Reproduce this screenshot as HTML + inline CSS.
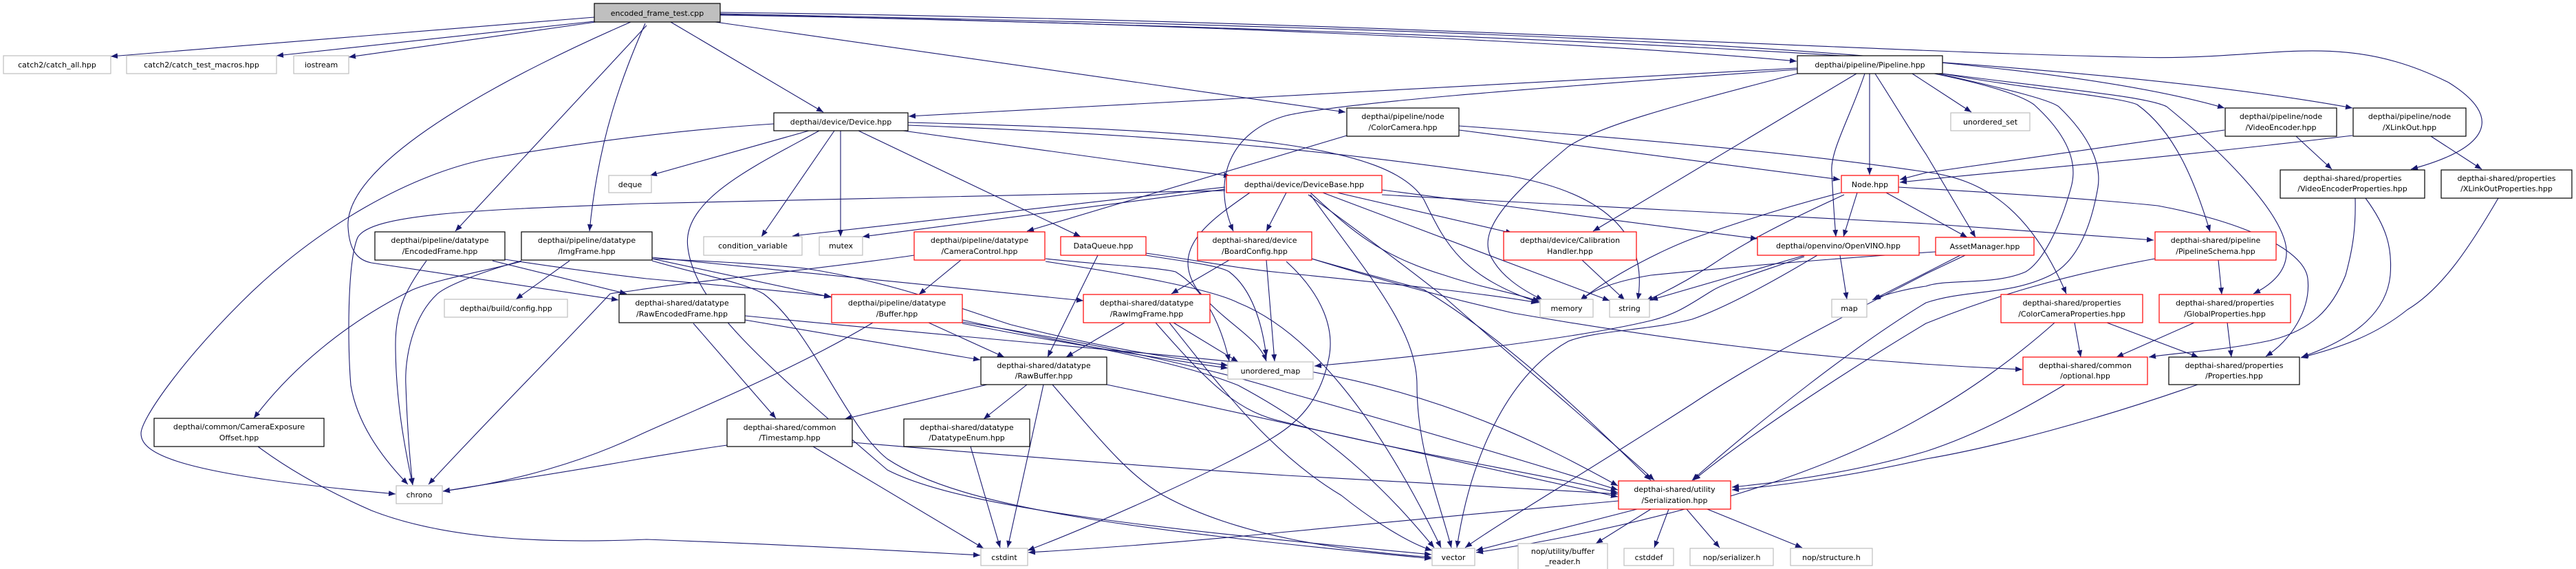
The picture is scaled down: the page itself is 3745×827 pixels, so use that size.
<!DOCTYPE html>
<html><head><meta charset="utf-8"><style>
html,body{margin:0;padding:0;background:#fff;}
svg{display:block;}
text{font-family:"DejaVu Sans","Liberation Sans",sans-serif;font-size:11px;fill:#000;text-anchor:middle;}
.e{fill:none;stroke:#191970;stroke-width:1.1;marker-end:url(#a);}
.g{fill:#fff;stroke:#bfbfbf;stroke-width:1.2;}
.b{fill:#fff;stroke:#000;stroke-width:1.2;}
.r{fill:#fff;stroke:#ff0000;stroke-width:1.2;}
</style></head><body>
<svg width="3745" height="827" viewBox="0 0 3745 827" xmlns="http://www.w3.org/2000/svg">
<defs><marker id="a" markerUnits="userSpaceOnUse" markerWidth="11" markerHeight="8" refX="10" refY="4" orient="auto"><path d="M0,0 L10,4 L0,8 Z" fill="#191970"/></marker></defs>
<g>
<!-- root edges -->
<path class="e" d="M864,25 L161,82"/>
<path class="e" d="M864,31 L402,81"/>
<path class="e" d="M866,32 L507,83"/>
<path class="e" d="M975,32 L1197,163"/>
<path class="e" d="M940,37 L662,336"/>
<path class="e" d="M938,34 C905,110 870,200 857,336"/>
<path class="e" d="M917,32 C760,100 500,230 506,330 C508,365 520,378 540,382 L899,436"/>
<path class="e" d="M1040,32 L1956,163"/>
<path class="e" d="M1047,22 C1600,30 2300,60 2612,89"/>
<path class="e" d="M1047,20 C2000,40 2900,60 3234,157"/>
<path class="e" d="M1047,21 C2100,45 3000,80 3420,157"/>
<path class="e" d="M1047,18 C2000,30 2700,75 3100,83 C3300,90 3400,40 3560,120 C3640,170 3620,215 3505,246"/>
<!-- Device -->
<path class="e" d="M1176,190 L945,255"/>
<path class="e" d="M1125,180 C1000,188 860,205 719,229 C600,250 460,330 350,440 C260,530 205,610 205,630 C205,660 260,690 575,718"/>
<path class="e" d="M1213,190 L1107,344"/>
<path class="e" d="M1222,190 L1222,344"/>
<path class="e" d="M1248,190 L1571,344"/>
<path class="e" d="M1313,190 L1789,256"/>
<path class="e" d="M1320,178 C1800,190 2020,210 2070,290 C2100,350 2120,400 2238,440"/>
<path class="e" d="M1320,182 C1800,200 2000,230 2196,256 C2300,275 2400,320 2381,436"/>
<path class="e" d="M1191,190 C1100,240 990,290 1000,360 C1010,440 1100,520 1290,683 C1400,740 1700,770 2081,806"/>
<!-- DeviceBase -->
<path class="e" d="M1781,272 L1152,343"/>
<path class="e" d="M1781,275 L1254,344"/>
<path class="e" d="M1781,277 C1400,285 1000,295 930,296 C700,305 540,310 520,345 C505,380 505,500 510,560 C520,620 560,670 593,704"/>
<path class="e" d="M1870,280 L1841,336"/>
<path class="e" d="M1944,280 L2199,339"/>
<path class="e" d="M1905,280 C1960,330 2000,370 2100,400 C2160,420 2200,425 2238,438"/>
<path class="e" d="M1923,280 L2340,437"/>
<path class="e" d="M1905,283 C1990,400 2060,480 2060,560 C2060,650 2090,720 2110,796"/>
<path class="e" d="M2009,276 L2555,347"/>
<path class="e" d="M1902,283 C1980,340 2060,400 2100,432 C2200,520 2330,630 2405,698"/>
<path class="e" d="M2009,283 C2300,300 2600,315 2800,325 C2950,335 3050,343 3131,349"/>
<path class="e" d="M1817,280 C1760,320 1700,360 1740,420 C1780,470 1830,490 1841,525"/>
<!-- Pipeline -->
<path class="e" d="M2613,99 L1321,169"/>
<path class="e" d="M2613,101 C2200,130 1950,150 1870,168 C1790,190 1760,260 1793,336"/>
<path class="e" d="M2613,107 C2450,150 2330,180 2280,213 C2200,280 2150,330 2166,370 C2180,400 2210,420 2243,436"/>
<path class="e" d="M2699,107 L2316,336"/>
<path class="e" d="M2711,107 C2690,170 2660,220 2663,251 C2665,290 2667,320 2669,344"/>
<path class="e" d="M2718,107 L2718,254"/>
<path class="e" d="M2726,107 C2760,160 2790,210 2800,224 L2872,345"/>
<path class="e" d="M2780,107 L2866,163"/>
<path class="e" d="M2812,107 C2900,125 2940,140 2957,152 C3010,200 3020,240 3011,272 C2995,330 2970,380 2945,395 C2900,415 2830,405 2800,416 C2770,420 2740,428 2724,435"/>
<path class="e" d="M2818,107 C2920,130 2980,145 2993,155 C3040,200 3055,240 3050,272 C3040,330 3020,380 2981,400 C2920,430 2860,420 2800,440 C2700,500 2560,610 2460,698"/>
<path class="e" d="M2824,107 C2950,130 3080,140 3107,152 C3160,190 3190,260 3213,337"/>
<path class="e" d="M2824,107 C3000,130 3120,140 3150,155 C3230,220 3320,310 3324,363 C3326,395 3300,415 3276,427"/>
<!-- ColorCamera -->
<path class="e" d="M1958,197 L1493,336"/>
<path class="e" d="M2121,189 L2675,261"/>
<path class="e" d="M2121,183 C2500,210 2700,235 2800,250 C2880,260 2950,300 3004,427"/>
<!-- Node -->
<path class="e" d="M3234,189 L2800,251 L2762,261"/>
<path class="e" d="M3420,197 C3100,235 2900,250 2800,261 L2762,265"/>
<path class="e" d="M2700,280 L2680,344"/>
<path class="e" d="M2677,280 C2560,310 2480,340 2460,347 C2400,370 2330,410 2297,437"/>
<path class="e" d="M2681,283 C2600,320 2540,350 2490,384 C2450,410 2420,425 2393,437"/>
<path class="e" d="M2742,280 L2860,345"/>
<path class="e" d="M2760,272 C2900,280 3050,290 3137,299 C3250,320 3350,360 3355,405 C3360,450 3330,495 3294,518"/>
<!-- VideoEncoder / XLinkOut -->
<path class="e" d="M3338,198 L3390,246"/>
<path class="e" d="M3534,198 L3608,246"/>
<path class="e" d="M3424,288 C3425,330 3421,360 3410,400 C3390,450 3360,480 3300,495 C3230,510 3170,512 3124,519"/>
<path class="e" d="M3439,288 C3470,330 3478,360 3475,400 C3470,450 3430,490 3346,519"/>
<path class="e" d="M3632,288 C3590,360 3550,420 3500,450 C3450,490 3400,505 3345,520"/>
<!-- PipelineSchema / properties -->
<path class="e" d="M3225,378 L3230,428"/>
<path class="e" d="M3133,376 C3000,400 2900,430 2800,470 C2650,560 2520,650 2462,698"/>
<path class="e" d="M3016,469 L3025,519"/>
<path class="e" d="M3063,469 L3196,519"/>
<path class="e" d="M2987,469 C2930,520 2860,570 2800,603 C2600,720 2300,780 2146,803"/>
<path class="e" d="M3190,469 L3077,519"/>
<path class="e" d="M3238,469 L3244,519"/>
<path class="e" d="M3002,559 C2950,590 2880,630 2800,656 C2700,685 2600,700 2518,708"/>
<path class="e" d="M3195,559 C3050,610 2900,650 2800,667 C2700,690 2600,705 2518,712"/>
<!-- OpenVINO / AssetManager / Calibration -->
<path class="e" d="M2675,371 L2685,435"/>
<path class="e" d="M2624,371 L2400,436"/>
<path class="e" d="M2642,371 C2560,420 2500,450 2460,464 C2400,480 2320,480 2280,496 C2200,540 2140,650 2118,796"/>
<path class="e" d="M2623,373 C2560,395 2510,410 2490,422 C2460,440 2440,456 2400,466 C2300,490 2100,515 1911,532"/>
<path class="e" d="M2814,366 C2600,380 2450,395 2400,400 C2340,410 2310,425 2298,437"/>
<path class="e" d="M2850,371 L2722,436"/>
<path class="e" d="M2857,371 L2800,398 C2700,450 2560,520 2460,587 C2300,690 2180,760 2130,796"/>
<path class="e" d="M2300,378 L2362,436"/>
<!-- DataQueue / CameraControl / BoardConfig -->
<path class="e" d="M1596,371 L1523,519"/>
<path class="e" d="M1666,368 C1750,380 1800,390 1860,396 C2000,410 2150,425 2236,440"/>
<path class="e" d="M1666,371 C1720,380 1770,385 1787,395 C1820,420 1835,470 1841,518"/>
<path class="e" d="M1397,378 L1336,428"/>
<path class="e" d="M1329,371 C1200,390 1000,410 930,421 C905,425 895,425 887,427 C800,520 700,620 623,704"/>
<path class="e" d="M1520,376 C1600,385 1680,388 1709,395 C1750,420 1775,470 1787,525"/>
<path class="e" d="M1520,380 C1650,400 1760,420 1800,440 C1900,480 2000,600 2095,796"/>
<path class="e" d="M1787,378 L1703,427"/>
<path class="e" d="M1841,378 L1853,525"/>
<path class="e" d="M1870,380 C1925,430 1940,480 1932,520 C1920,580 1890,610 1860,630 C1800,670 1600,760 1494,800"/>
<path class="e" d="M1907,376 C1990,400 2040,412 2070,421 C2200,500 2320,620 2400,698"/>
<path class="e" d="M1907,376 C2000,405 2100,432 2200,455 C2400,490 2650,525 2940,537"/>
<!-- EncodedFrame / ImgFrame -->
<path class="e" d="M620,379 C590,420 575,450 575,500 C575,580 588,650 600,705"/>
<path class="e" d="M716,379 L911,427"/>
<path class="e" d="M734,377 C820,390 880,398 940,405 C1050,415 1130,422 1208,431"/>
<path class="e" d="M828,379 L750,435"/>
<path class="e" d="M758,379 C700,395 650,415 636,427 C600,460 588,520 590,560 C592,620 596,670 600,705"/>
<path class="e" d="M758,380 C700,395 640,405 600,421 C500,470 420,540 369,608"/>
<path class="e" d="M948,374 L1575,437"/>
<path class="e" d="M948,376 L1209,432"/>
<path class="e" d="M948,376 C1050,380 1120,385 1170,390 C1300,410 1400,450 1470,472 C1600,505 1700,520 1785,531"/>
<path class="e" d="M948,379 C1020,400 1080,410 1110,427 C1180,480 1230,620 1290,667 C1400,740 1650,770 2081,812"/>
<!-- RawEncodedFrame / Buffer / RawImgFrame -->
<path class="e" d="M1008,470 L1128,608"/>
<path class="e" d="M1083,465 L1425,523"/>
<path class="e" d="M1083,459 C1400,490 1700,515 1870,534 C2100,570 2250,650 2352,706"/>
<path class="e" d="M1350,469 L1460,519"/>
<path class="e" d="M1269,469 C1150,540 1000,600 930,632 C850,670 750,700 644,714"/>
<path class="e" d="M1399,470 C1550,500 1680,520 1785,535"/>
<path class="e" d="M1399,465 C1550,500 1700,520 1800,560 C1950,640 2030,730 2085,796"/>
<path class="e" d="M1399,468 C1600,500 1780,540 1870,570 C2050,620 2250,680 2352,712"/>
<path class="e" d="M1635,469 L1550,519"/>
<path class="e" d="M1706,469 L1800,526"/>
<path class="e" d="M1680,469 C1760,560 1800,600 1870,614 C2050,660 2250,690 2352,716"/>
<path class="e" d="M1700,469 C1780,570 1850,660 1950,720 C2000,760 2050,790 2082,800"/>
<!-- RawBuffer -->
<path class="e" d="M1435,559 L1228,609"/>
<path class="e" d="M1493,559 L1430,609"/>
<path class="e" d="M1517,559 L1465,796"/>
<path class="e" d="M1530,559 C1600,640 1640,690 1691,720 C1800,780 1950,800 2081,810"/>
<path class="e" d="M1609,559 C1900,620 2200,690 2352,722"/>
<!-- Timestamp / DatatypeEnum / CamExp -->
<path class="e" d="M1057,647 C1000,655 960,662 930,667 C830,685 730,700 644,714"/>
<path class="e" d="M1182,649 L1430,797"/>
<path class="e" d="M1239,643 C1500,665 1700,680 1870,691 C2050,700 2200,708 2352,718"/>
<path class="e" d="M1411,649 L1454,796"/>
<path class="e" d="M375,649 C430,690 490,720 540,742 C650,785 800,790 940,784 C1100,790 1300,800 1425,807"/>
<!-- Serialization -->
<path class="e" d="M2353,728 C2200,742 2000,760 1860,774 C1700,790 1580,798 1495,803"/>
<path class="e" d="M2380,740 L2146,800"/>
<path class="e" d="M2400,740 L2320,790"/>
<path class="e" d="M2426,740 L2405,796"/>
<path class="e" d="M2452,740 L2500,796"/>
<path class="e" d="M2482,740 L2620,796"/>
</g>
<g>
<rect x="864" y="5" width="183" height="27" fill="#bfbfbf" stroke="#000" stroke-width="1.2"/><text x="955.5" y="23">encoded_frame_test.cpp</text>
<rect class="g" x="5" y="81" width="156" height="26"/><text x="83" y="98">catch2/catch_all.hpp</text>
<rect class="g" x="184" y="81" width="218" height="26"/><text x="293" y="98">catch2/catch_test_macros.hpp</text>
<rect class="g" x="427" y="81" width="80" height="26"/><text x="467" y="98">iostream</text>
<rect class="g" x="885" y="255" width="62" height="25"/><text x="916" y="272">deque</text>
<rect class="b" x="545" y="337" width="189" height="41"/><text x="639.5" y="353">depthai/pipeline/datatype</text><text x="639.5" y="369">/EncodedFrame.hpp</text>
<rect class="b" x="758" y="337" width="190" height="41"/><text x="853" y="353">depthai/pipeline/datatype</text><text x="853" y="369">/ImgFrame.hpp</text>
<rect class="g" x="646" y="435" width="179" height="26"/><text x="735.5" y="452">depthai/build/config.hpp</text>
<rect class="b" x="900" y="428" width="183" height="41"/><text x="991.5" y="444">depthai-shared/datatype</text><text x="991.5" y="460">/RawEncodedFrame.hpp</text>
<rect class="b" x="224" y="608" width="247" height="41"/><text x="347.5" y="624">depthai/common/CameraExposure</text><text x="347.5" y="640">Offset.hpp</text>
<rect class="g" x="576" y="706" width="67" height="26"/><text x="609.5" y="723">chrono</text>
<rect class="b" x="1125" y="164" width="195" height="26"/><text x="1222.5" y="181">depthai/device/Device.hpp</text>
<rect class="g" x="1023" y="344" width="143" height="27"/><text x="1094.5" y="361">condition_variable</text>
<rect class="g" x="1191" y="344" width="63" height="27"/><text x="1222.5" y="361">mutex</text>
<rect class="r" x="1329" y="337" width="190" height="41"/><text x="1424" y="353">depthai/pipeline/datatype</text><text x="1424" y="369">/CameraControl.hpp</text>
<rect class="r" x="1542" y="344" width="124" height="27"/><text x="1604" y="361">DataQueue.hpp</text>
<rect class="r" x="1783" y="255" width="226" height="25"/><text x="1896" y="272">depthai/device/DeviceBase.hpp</text>
<rect class="r" x="1741" y="337" width="166" height="41"/><text x="1824" y="353">depthai-shared/device</text><text x="1824" y="369">/BoardConfig.hpp</text>
<rect class="r" x="1209" y="428" width="190" height="41"/><text x="1304" y="444">depthai/pipeline/datatype</text><text x="1304" y="460">/Buffer.hpp</text>
<rect class="r" x="1575" y="428" width="184" height="41"/><text x="1667" y="444">depthai-shared/datatype</text><text x="1667" y="460">/RawImgFrame.hpp</text>
<rect class="g" x="1785" y="526" width="124" height="25"/><text x="1847" y="543">unordered_map</text>
<rect class="b" x="1426" y="519" width="183" height="40"/><text x="1517.5" y="535">depthai-shared/datatype</text><text x="1517.5" y="550">/RawBuffer.hpp</text>
<rect class="b" x="1057" y="609" width="182" height="40"/><text x="1148" y="625">depthai-shared/common</text><text x="1148" y="640">/Timestamp.hpp</text>
<rect class="b" x="1314" y="609" width="183" height="40"/><text x="1405.5" y="625">depthai-shared/datatype</text><text x="1405.5" y="640">/DatatypeEnum.hpp</text>
<rect class="g" x="1426" y="797" width="68" height="25"/><text x="1460" y="814">cstdint</text>
<rect class="b" x="2613" y="81" width="211" height="26"/><text x="2718.5" y="98">depthai/pipeline/Pipeline.hpp</text>
<rect class="b" x="1958" y="157" width="163" height="41"/><text x="2039.5" y="173">depthai/pipeline/node</text><text x="2039.5" y="189">/ColorCamera.hpp</text>
<rect class="r" x="2186" y="337" width="193" height="41"/><text x="2282.5" y="353">depthai/device/Calibration</text><text x="2282.5" y="369">Handler.hpp</text>
<rect class="r" x="2677" y="255" width="83" height="25"/><text x="2718.5" y="272">Node.hpp</text>
<rect class="r" x="2555" y="344" width="235" height="27"/><text x="2672.5" y="361">depthai/openvino/OpenVINO.hpp</text>
<rect class="g" x="2239" y="435" width="77" height="26"/><text x="2277.5" y="452">memory</text>
<rect class="g" x="2340" y="435" width="58" height="26"/><text x="2369" y="452">string</text>
<rect class="g" x="2663" y="435" width="51" height="26"/><text x="2688.5" y="452">map</text>
<rect class="r" x="2353" y="699" width="163" height="41"/><text x="2434.5" y="715">depthai-shared/utility</text><text x="2434.5" y="731">/Serialization.hpp</text>
<rect class="g" x="2082" y="797" width="62" height="25"/><text x="2113" y="814">vector</text>
<rect class="g" x="2207" y="790" width="130" height="39"/><text x="2272" y="805">nop/utility/buffer</text><text x="2272" y="820">_reader.h</text>
<rect class="g" x="2361" y="797" width="72" height="25"/><text x="2397" y="814">cstddef</text>
<rect class="g" x="2457" y="797" width="121" height="25"/><text x="2517.5" y="814">nop/serializer.h</text>
<rect class="g" x="2603" y="797" width="119" height="25"/><text x="2662.5" y="814">nop/structure.h</text>
<rect class="g" x="2836" y="164" width="115" height="26"/><text x="2893.5" y="181">unordered_set</text>
<rect class="b" x="3235" y="157" width="162" height="41"/><text x="3316" y="173">depthai/pipeline/node</text><text x="3316" y="189">/VideoEncoder.hpp</text>
<rect class="b" x="3421" y="157" width="164" height="41"/><text x="3503" y="173">depthai/pipeline/node</text><text x="3503" y="189">/XLinkOut.hpp</text>
<rect class="b" x="3315" y="247" width="210" height="41"/><text x="3420" y="263">depthai-shared/properties</text><text x="3420" y="278">/VideoEncoderProperties.hpp</text>
<rect class="b" x="3549" y="247" width="190" height="41"/><text x="3644" y="263">depthai-shared/properties</text><text x="3644" y="278">/XLinkOutProperties.hpp</text>
<rect class="r" x="2814" y="345" width="143" height="26"/><text x="2885.5" y="362">AssetManager.hpp</text>
<rect class="r" x="3133" y="337" width="176" height="41"/><text x="3221" y="353">depthai-shared/pipeline</text><text x="3221" y="369">/PipelineSchema.hpp</text>
<rect class="r" x="2909" y="428" width="206" height="41"/><text x="3012" y="444">depthai-shared/properties</text><text x="3012" y="460">/ColorCameraProperties.hpp</text>
<rect class="r" x="3139" y="428" width="191" height="41"/><text x="3234.5" y="444">depthai-shared/properties</text><text x="3234.5" y="460">/GlobalProperties.hpp</text>
<rect class="r" x="2941" y="519" width="181" height="40"/><text x="3031.5" y="535">depthai-shared/common</text><text x="3031.5" y="550">/optional.hpp</text>
<rect class="b" x="3153" y="519" width="190" height="40"/><text x="3248" y="535">depthai-shared/properties</text><text x="3248" y="550">/Properties.hpp</text>
</g>
</svg>
</body></html>
